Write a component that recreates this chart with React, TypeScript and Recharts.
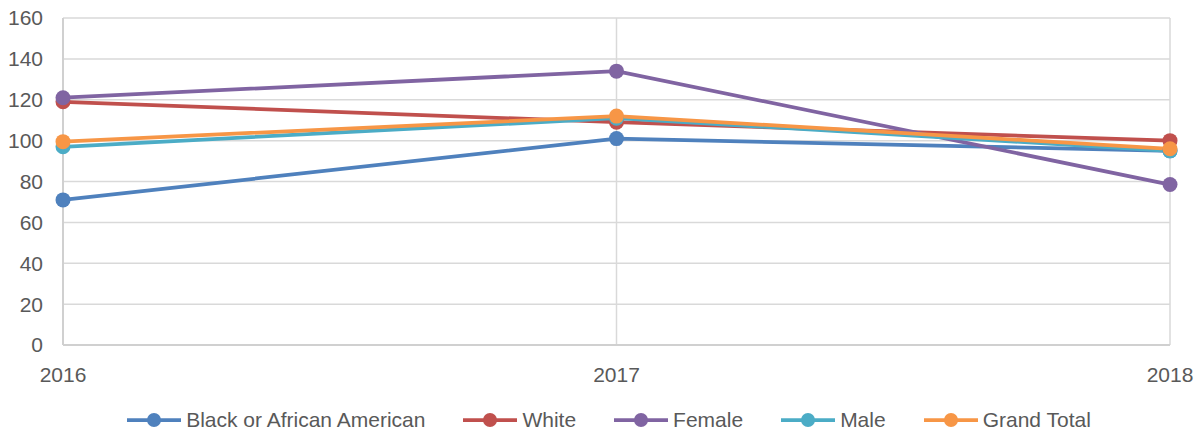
import React from "react";
import { LineChart, Line, XAxis, YAxis, CartesianGrid, Legend } from "recharts";

const years = ["2016", "2017", "2018"];
const blackOrAfricanAmerican = [71, 101, 95];
const white = [119, 109, 100];
const female = [121, 134, 78.5];
const male = [97, 111, 95];
const grandTotal = [99.5, 112, 96];
const yTicks = [0, 20, 40, 60, 80, 100, 120, 140, 160];

const seriesDefs = [
  { key: "Black or African American", values: blackOrAfricanAmerican, color: "#4F81BD" },
  { key: "White", values: white, color: "#C0504D" },
  { key: "Female", values: female, color: "#8064A2" },
  { key: "Male", values: male, color: "#4BACC6" },
  { key: "Grand Total", values: grandTotal, color: "#F79646" },
];

const data = years.map((year, i) => {
  const row: Record<string, string | number> = { year };
  seriesDefs.forEach((s) => {
    row[s.key] = s.values[i];
  });
  return row;
});

const FONT = "'Liberation Sans', Arial, sans-serif";
const TEXT = "#595959";

function LegendContent() {
  return (
    <div
      style={{
        display: "flex",
        justifyContent: "center",
        alignItems: "center",
        gap: 38,
        fontFamily: FONT,
        fontSize: 21,
        color: TEXT,
        paddingLeft: 20,
      }}
    >
      {seriesDefs.map((s) => (
        <div key={s.key} style={{ display: "flex", alignItems: "center", gap: 5 }}>
          <svg width={54} height={16}>
            <line x1={0} y1={8} x2={54} y2={8} stroke={s.color} strokeWidth={3.75} />
            <circle cx={27} cy={8} r={7} fill={s.color} />
          </svg>
          <span>{s.key}</span>
        </div>
      ))}
    </div>
  );
}

export default function App() {
  return (
    <div style={{ position: "absolute", left: 0, top: 0, background: "#fff" }}>
      <LineChart
        width={1198}
        height={433}
        data={data}
        margin={{ top: 18, right: 28, bottom: 48, left: 0 }}
      >
        <CartesianGrid stroke="#d9d9d9" strokeWidth={1.5} />
        <XAxis
          dataKey="year"
          stroke="#d0d0d0"
          strokeWidth={2}
          tickLine={false}
          tickSize={0}
          tickMargin={22}
          height={40}
          tick={{ fill: TEXT, fontSize: 21, fontFamily: FONT }}
          interval={0}
        />
        <YAxis
          domain={[0, 160]}
          ticks={yTicks}
          width={63}
          stroke="#d0d0d0"
          strokeWidth={2}
          tickLine={false}
          tickSize={0}
          tickMargin={20}
          tick={{ fill: TEXT, fontSize: 21, fontFamily: FONT }}
        />
        <Legend
          layout="horizontal"
          verticalAlign="middle"
          align="center"
          wrapperStyle={{ top: 408, left: 0, width: 1198 }}
          content={<LegendContent />}
        />
        {seriesDefs.map((s) => (
          <Line
            key={s.key}
            type="linear"
            dataKey={s.key}
            stroke={s.color}
            strokeWidth={3.75}
            dot={{ r: 7.5, fill: s.color, stroke: s.color, strokeWidth: 0 }}
            activeDot={false}
            isAnimationActive={false}
          />
        ))}
      </LineChart>
    </div>
  );
}
